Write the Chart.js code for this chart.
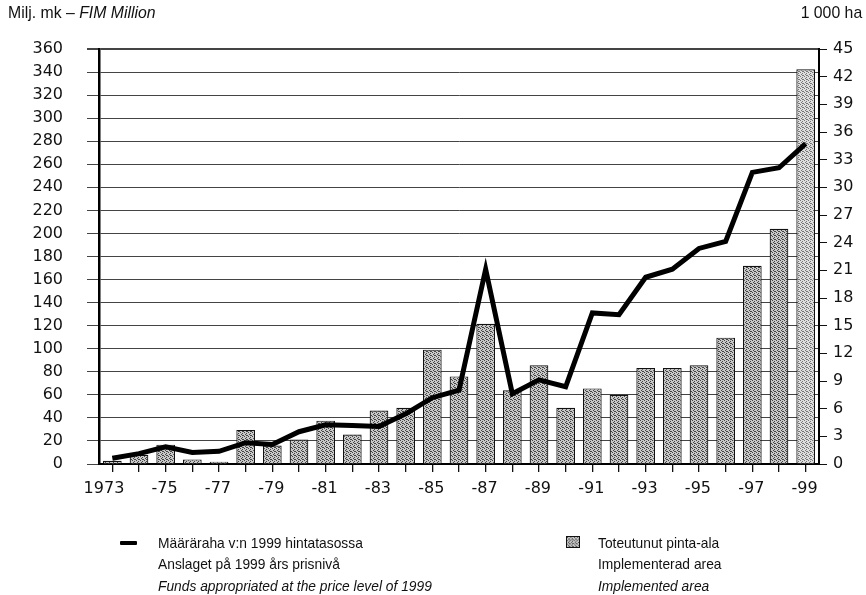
<!DOCTYPE html>
<html><head><meta charset="utf-8">
<script src="https://cdn.jsdelivr.net/npm/chart.js@4"></script>
<style>
body{margin:0;background:#fff;width:866px;height:595px;overflow:hidden;position:relative;font-family:'Liberation Sans',Arial,sans-serif;color:#111;}
#wrap{position:absolute;left:0;top:0;width:866px;height:595px;}
.t{position:absolute;font-size:15px;white-space:nowrap;line-height:1;transform:scaleX(0.92);transform-origin:left center;}
.h{font-size:17px;transform:scaleX(0.93);}
.r{transform-origin:right center;}
#sw{position:absolute;left:566px;top:536px;width:14px;height:12px;box-sizing:border-box;border:1px solid #111;}
#ln{position:absolute;left:120px;top:541px;width:17px;height:4px;background:#000;border-radius:1px;}
</style></head><body>
<div id="wrap"><canvas id="c" width="866" height="595"></canvas></div>
<div class="t h" style="left:8px;top:4px">Milj. mk – <i>FIM Million</i></div>
<div class="t h r" style="right:4px;top:4px">1 000 ha</div>
<div id="ln"></div>
<div class="t" style="left:158px;top:535px">Määräraha v:n 1999 hintatasossa</div>
<div class="t" style="left:158px;top:556px">Anslaget på 1999 års prisnivå</div>
<div class="t" style="left:158px;top:578px"><i>Funds appropriated at the price level of 1999</i></div>
<canvas id="sw" width="14" height="12"></canvas>
<div class="t" style="left:598px;top:535px">Toteutunut pinta-ala</div>
<div class="t" style="left:598px;top:556px">Implementerad area</div>
<div class="t" style="left:598px;top:578px"><i>Implemented area</i></div>
<script>
const years = ['1973','1974','1975','1976','1977','1978','1979','1980','1981','1982','1983','1984','1985','1986','1987','1988','1989','1990','1991','1992','1993','1994','1995','1996','1997','1998','1999'];
const tickLabels = ['1973','','-75','','-77','','-79','','-81','','-83','','-85','','-87','','-89','','-91','','-93','','-95','','-97','','-99'];
// Funds appropriated at the 1999 price level, FIM million (left axis)
const funds = [5,9,15,10,11,18.5,17,28,34,33.5,32.5,43.5,57.5,64,169,61,73,67,131,129.5,162,169,187,193,253,257,278];
// Implemented area, 1000 ha (right axis)
const area = [0.35,1.0,2.1,0.5,0.25,3.7,2.0,2.65,4.7,3.2,5.8,6.1,12.4,9.5,15.2,8.0,10.7,6.1,8.2,7.5,10.4,10.4,10.7,13.7,21.5,25.5,42.8];

function patCanvas(light){
  const p=document.createElement('canvas');p.width=4;p.height=4;
  const g=p.getContext('2d');
  g.fillStyle=light?'#dedede':'#c8c8c8';g.fillRect(0,0,4,4);
  g.fillStyle=light?'#777':'#444';
  [[0,0],[2,1],[1,2],[3,3],[2,3]].forEach(([x,y])=>g.fillRect(x,y,1,1));
  return p;
}
const ctx=document.getElementById('c').getContext('2d');
const pat=ctx.createPattern(patCanvas(false),'repeat');
const patL=ctx.createPattern(patCanvas(true),'repeat');
const barFill=area.map((v,i)=>i===area.length-1?patL:pat);
const sw=document.getElementById('sw').getContext('2d');
sw.fillStyle=sw.createPattern(patCanvas(false),'repeat');sw.fillRect(0,0,14,12);

const font={family:"'DejaVu Sans', Arial, sans-serif",size:16};
new Chart(ctx,{
  type:'bar',
  data:{labels:years,datasets:[
    {type:'line',data:funds,yAxisID:'y',borderColor:'#000',borderWidth:5,pointRadius:0,tension:0,order:0,borderJoinStyle:'miter'},
    {type:'bar',data:area,yAxisID:'y2',backgroundColor:barFill,borderColor:'#111',borderWidth:1.2,barPercentage:0.7,categoryPercentage:1,order:1}
  ]},
  options:{
    responsive:false,animation:false,devicePixelRatio:1,
    layout:{padding:{top:49,bottom:91,left:0,right:0}},
    plugins:{legend:{display:false},tooltip:{enabled:false}},
    scales:{
      x:{offset:true,
        grid:{offset:false,drawOnChartArea:false,drawTicks:true,tickLength:8,color:'#111',lineWidth:1.3},
        border:{color:'#000',width:2},
        ticks:{autoSkip:false,maxRotation:0,padding:7,align:'end',labelOffset:12,color:'#111',font,callback:(v,i)=>tickLabels[i]},
        afterFit(s){s.height=40;}},
      y:{position:'left',min:0,max:360,
        grid:{color:'#444',lineWidth:c=>c.tick&&c.tick.value===360?2:1,tickLength:12},
        border:{color:'#000',width:2.5},
        ticks:{stepSize:20,padding:24,color:'#111',font},
        afterFit(s){s.width=99;}},
      y2:{position:'right',min:0,max:45,
        grid:{drawOnChartArea:false,tickLength:8,color:'#111'},
        border:{color:'#000',width:2},
        ticks:{stepSize:3,padding:6,color:'#111',font},
        afterFit(s){s.width=47;}}
    }
  }
});
</script>
</body></html>
